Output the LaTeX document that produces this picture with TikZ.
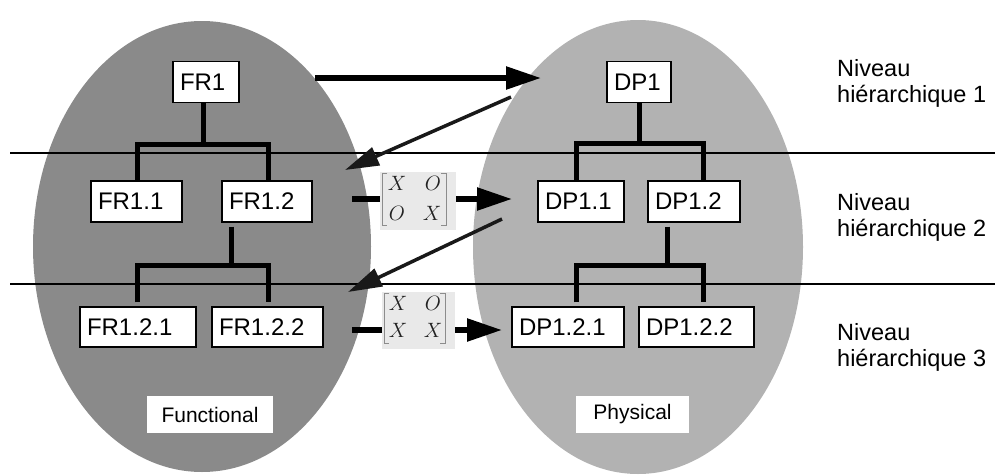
\documentclass[tikz,border=0pt]{standalone}
\usepackage{fontspec}
\setmainfont{Liberation Sans}
\usetikzlibrary{arrows.meta}
\definecolor{funcgray}{HTML}{8A8A8A}
\definecolor{physgray}{HTML}{B2B2B2}
\definecolor{matbg}{HTML}{E9E9E9}
\definecolor{matbr}{HTML}{8C8C8C}
\definecolor{matfg}{HTML}{222222}
\begin{document}
\begin{tikzpicture}[x=1pt,y=-1pt,
  box/.style={draw=black,line width=1.2pt,fill=white,inner xsep=7pt,inner ysep=0pt,
    minimum height=41pt,align=left,font=\fontsize{24}{26}\selectfont,anchor=center},
  tag/.style={fill=white,inner sep=0pt,minimum height=37pt,font=\fontsize{21}{23}\selectfont},
  lvl/.style={anchor=base west,inner sep=0pt,font=\fontsize{23.5}{25}\selectfont},
  tree/.style={line width=5pt},
  level/.style={line width=1.5pt},
  big/.style={line width=5.5pt,-{Triangle[length=35pt,width=22pt]}},
  stub/.style={line width=6pt},
  diag/.style={line width=3.5pt,color=black!90,-{Triangle[length=34pt,width=19pt]}},
  bg/.style={fill=matbg,draw=none},
  br/.style={draw=matbr,line width=0.9pt},
  ent/.style={inner sep=0pt,text=matfg,font=\fontsize{20}{22}\selectfont}]
\useasboundingbox (0,0) rectangle (1006,474);
% ellipses
\fill[funcgray] (202,246.5) ellipse [x radius=169, y radius=225.5];
\fill[physgray] (638,247) ellipse [x radius=165, y radius=227];
% level lines
\coordinate (l1a) at (10,153); \coordinate (l1b) at (995,153);
\coordinate (l2a) at (10,284); \coordinate (l2b) at (995,284);
\draw[level] (l1a) -- (l1b);
\draw[level] (l2a) -- (l2b);
% functional boxes
\node[box,text width=52pt] (FR1) at (206,82) {FR1};
\node[box,text width=77pt] (FR11) at (136.5,201.5) {FR1.1};
\node[box,text width=76pt] (FR12) at (267,201.5) {FR1.2};
\node[box,text width=102pt,minimum height=40pt] (FR121) at (138,327) {FR1.2.1};
\node[box,text width=97pt,minimum height=40pt] (FR122) at (267.5,327) {FR1.2.2};
\node[tag,minimum width=126pt] (func) at (210,414.5) {Functional};
% physical boxes
\node[box,text width=50pt] (DP1) at (639,82) {DP1};
\node[box,text width=72pt] (DP11) at (581,201.5) {DP1.1};
\node[box,text width=78pt] (DP12) at (694,201.5) {DP1.2};
\node[box,text width=98pt,minimum height=40pt] (DP121) at (568,327) {DP1.2.1};
\node[box,text width=101pt,minimum height=40pt] (DP122) at (696.5,327) {DP1.2.2};
\node[tag,minimum width=113pt] (phys) at (632.5,414.5) {Physical};
% left tree
\coordinate (fa) at (203,144);
\coordinate (fl1) at (137,144); \coordinate (fr1) at (268,144);
\draw[tree] (FR1.south -| fa) -- (fa);
\draw[tree] (FR11.north -| fl1) -- (fl1) -- (fr1) -- (FR12.north -| fr1);
\coordinate (fb) at (231,265);
\coordinate (fl2) at (137,265); \coordinate (fr2) at (268,265);
\draw[tree,shorten <=4pt] (FR12.south -| fb) -- (fb);
\draw[tree,shorten <=4pt,shorten >=4pt] (FR121.north -| fl2) -- (fl2) -- (fr2) -- (FR122.north -| fr2);
% right tree
\coordinate (pa) at (639,143);
\coordinate (pl1) at (576,143); \coordinate (pr1) at (703,143);
\draw[tree] (DP1.south) -- (DP1.south |- pa);
\draw[tree] (DP11.north -| pl1) -- (pl1) -- (pr1) -- (DP12.north -| pr1);
\coordinate (pb) at (667,265);
\coordinate (pl2) at (576,265); \coordinate (pr2) at (703,265);
\draw[tree,shorten <=4pt] (DP12.south -| pb) -- (pb);
\draw[tree,shorten <=4pt,shorten >=4pt] (DP121.north -| pl2) -- (pl2) -- (pr2) -- (DP122.north -| pr2);
% matrix 1
\node[bg,minimum width=76pt,minimum height=58pt,inner sep=0pt] (M1) at (418,201) {};
\draw[br] (387,173) -- (382,173) -- (382,225) -- (387,225);
\draw[br] (441,173) -- (446,173) -- (446,225) -- (441,225);
\node[ent] (m1a) at (397,183) {$X$};
\node[ent] (m1b) at (433,183) {$O$};
\node[ent] (m1c) at (397,213) {$O$};
\node[ent] (m1d) at (432,213) {$X$};
% matrix 2
\node[bg,minimum width=73pt,minimum height=57pt,inner sep=0pt] (M2) at (418.5,320.5) {};
\draw[br] (389,293) -- (384,293) -- (384,343) -- (389,343);
\draw[br] (440,293) -- (445,293) -- (445,343) -- (440,343);
\node[ent] (m2a) at (398,303) {$X$};
\node[ent] (m2b) at (433,303) {$O$};
\node[ent] (m2c) at (398,330) {$X$};
\node[ent] (m2d) at (433,330) {$X$};
% arrows
\coordinate (a1s) at (315,78); \coordinate (a1e) at (541,78);
\draw[big] (a1s) -- (a1e);
\coordinate (a2s) at (352,199); \coordinate (a2e) at (512,199);
\draw[stub] (a2s) -- (M1.west |- a2s);
\draw[big] (M1.east |- a2s) -- (a2e);
\coordinate (a3s) at (352,330); \coordinate (a3e) at (502,330);
\draw[stub] (a3s) -- (M2.west |- a3s);
\draw[big] (M2.east |- a3s) -- (a3e);
\coordinate (d1s) at (511,97); \coordinate (d1e) at (345,170);
\draw[diag] (d1s) -- (d1e);
\coordinate (d2s) at (502,219); \coordinate (d2e) at (348,292);
\draw[diag] (d2s) -- (d2e);
% level labels
\node[lvl] (n1a) at (837,76.5) {Niveau};
\node[lvl] (n1b) at (837,102) {hiérarchique 1};
\node[lvl] (n2a) at (837,210) {Niveau};
\node[lvl] (n2b) at (837,236) {hiérarchique 2};
\node[lvl] (n3a) at (837,340) {Niveau};
\node[lvl] (n3b) at (837,366.5) {hiérarchique 3};
\end{tikzpicture}
\end{document}
